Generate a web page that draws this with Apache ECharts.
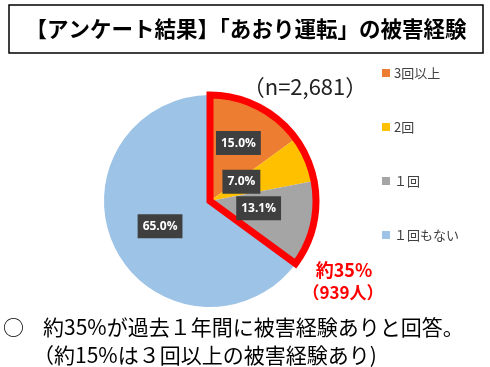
<!DOCTYPE html>
<html><head><meta charset="utf-8">
<script src="https://cdn.jsdelivr.net/npm/echarts@6/dist/echarts.min.js"></script>
<style>html,body{margin:0;padding:0;background:#fff}#c{width:490px;height:367px}</style>
</head><body><div id="c"></div>
<script>
var categories = ['3回以上', '2回', '１回', '１回もない'];
var values = [15.0, 7.0, 13.1, 65.0];
var colors = ['#ED7D31', '#FFC000', '#A5A5A5', '#9DC3E6'];
var labelOffsets = [[3, -8], [-20, 3], [-6, -5], [0, 0]];
var highlightedCount = 3;

var cjk = '"Noto Sans CJK JP", "Noto Sans", sans-serif';
var chart = echarts.init(document.getElementById('c'), null, {renderer: 'canvas'});
var center = [210, 201], radius = 106;
var highlightSum = values.slice(0, highlightedCount).reduce(function (a, b) { return a + b; }, 0);

chart.setOption({
  animation: false,
  legend: {
    orient: 'vertical', left: 377, top: 61,
    itemWidth: 8, itemHeight: 8, itemGap: 40,
    icon: 'rect',
    data: categories,
    textStyle: {fontFamily: cjk, fontSize: 13, color: '#404040', lineHeight: 14, padding: [0, 0, 0, -1]}
  },
  series: [{
    type: 'pie', center: center, radius: radius, startAngle: 90, clockwise: true,
    silent: true,
    data: categories.map(function (c, i) {
      return {name: c, value: values[i], itemStyle: {color: colors[i]},
        label: {offset: labelOffsets[i]}};
    }),
    labelLine: {show: false},
    label: {
      show: true, position: 'inside',
      formatter: function (p) { return p.value.toFixed(1) + '%'; },
      backgroundColor: '#3F3F3F', color: '#fff', fontWeight: 'bold',
      fontFamily: '"Open Sans", "DejaVu Sans", sans-serif', fontSize: 12,
      padding: [5, 5, 5, 5], lineHeight: 14
    }
  }, {
    type: 'pie', center: center, radius: radius, startAngle: 90, clockwise: true,
    silent: true, legendHoverLink: false,
    label: {show: false}, labelLine: {show: false},
    data: [
      {name: 'hl', value: highlightSum, itemStyle: {color: 'rgba(0,0,0,0)', borderColor: '#FF0000', borderWidth: 7, borderJoin: 'miter'}},
      {name: 'rest', value: values[3], itemStyle: {color: 'rgba(0,0,0,0)', borderWidth: 0}}
    ]
  }],
  graphic: [
    {type: 'rect', shape: {x: 9, y: 5, width: 474, height: 48}, style: {fill: '#fff', stroke: '#000', lineWidth: 1.5}, z: -1},
    {type: 'text', x: 246, y: 29, style: {text: '【アンケート結果】「あおり運転」の被害経験', fontFamily: cjk, fontSize: 21.5, fontWeight: 'bold', fill: '#000', align: 'center', verticalAlign: 'middle'}},
    {type: 'text', x: 305, y: 87, style: {text: '（n=2,681）', fontFamily: cjk, fontSize: 22, fill: '#222', align: 'center', verticalAlign: 'middle'}},
    {type: 'text', x: 344, y: 270, style: {text: '約35%', fontFamily: cjk, fontSize: 18, fontWeight: 'bold', fill: '#FF0000', align: 'center', verticalAlign: 'middle'}},
    {type: 'text', x: 343, y: 293, style: {text: '（939人）', fontFamily: cjk, fontSize: 17, fontWeight: 'bold', fill: '#FF0000', align: 'center', verticalAlign: 'middle'}},
    {type: 'text', x: 3, y: 327, style: {text: '○', fontFamily: cjk, fontSize: 21, fill: '#000', align: 'left', verticalAlign: 'middle'}},
    {type: 'text', x: 43, y: 327, style: {text: '約35%が過去１年間に被害経験ありと回答。', fontFamily: cjk, fontSize: 21, fill: '#000', align: 'left', verticalAlign: 'middle'}},
    {type: 'text', x: 33, y: 355, style: {text: '（約15%は３回以上の被害経験あり)', fontFamily: cjk, fontSize: 21, fill: '#000', align: 'left', verticalAlign: 'middle'}}
  ]
});
</script></body></html>
